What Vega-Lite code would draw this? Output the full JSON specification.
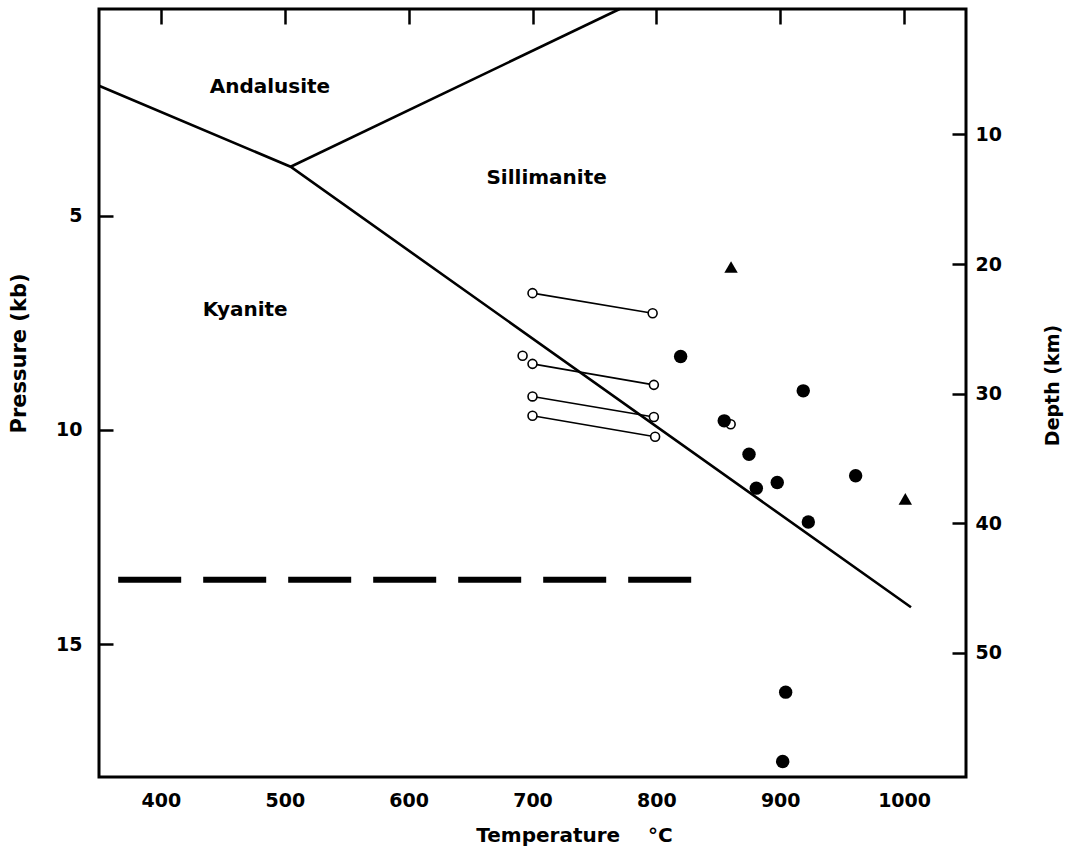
{
  "$schema": "https://vega.github.io/schema/vega-lite/v6.json",
  "width": 867,
  "height": 768,
  "autosize": {"type": "none"},
  "padding": {"left": 99, "top": 9, "right": 107, "bottom": 83},
  "background": "white",
  "config": {
    "view": {"stroke": "black", "strokeWidth": 3},
    "font": "DejaVu Sans",
    "axis": {
      "labelFont": "DejaVu Sans",
      "labelFontWeight": "bold",
      "labelColor": "black",
      "titleFont": "DejaVu Sans",
      "titleFontWeight": "bold",
      "titleColor": "black",
      "tickColor": "black",
      "grid": false,
      "domain": false
    }
  },
  "datasets": {
    "boundaries": [
      {"seg": "Ky-And-Sil", "ord": 1, "T": 350, "P": 1.97},
      {"seg": "Ky-And-Sil", "ord": 2, "T": 504.7, "P": 3.86},
      {"seg": "Ky-And-Sil", "ord": 3, "T": 1005.6, "P": 14.14},
      {"seg": "And-Sil", "ord": 1, "T": 504.7, "P": 3.86},
      {"seg": "And-Sil", "ord": 2, "T": 770.4, "P": 0.18}
    ],
    "dashed": [
      {"T": 365.5, "P": 13.5},
      {"T": 831, "P": 13.5}
    ],
    "samples": [
      {"kind": "open", "pair": 1, "T": 700, "P": 6.81},
      {"kind": "open", "pair": 1, "T": 797, "P": 7.28},
      {"kind": "open", "pair": 2, "T": 700, "P": 8.46},
      {"kind": "open", "pair": 2, "T": 798, "P": 8.95},
      {"kind": "open", "pair": 3, "T": 700, "P": 9.22},
      {"kind": "open", "pair": 3, "T": 798, "P": 9.70},
      {"kind": "open", "pair": 4, "T": 700, "P": 9.67},
      {"kind": "open", "pair": 4, "T": 799, "P": 10.16},
      {"kind": "open", "pair": null, "T": 692, "P": 8.27},
      {"kind": "open", "pair": null, "T": 860, "P": 9.87},
      {"kind": "filled", "pair": null, "T": 819.6, "P": 8.29},
      {"kind": "filled", "pair": null, "T": 918.6, "P": 9.09},
      {"kind": "filled", "pair": null, "T": 854.8, "P": 9.79},
      {"kind": "filled", "pair": null, "T": 874.8, "P": 10.57},
      {"kind": "filled", "pair": null, "T": 897.6, "P": 11.23},
      {"kind": "filled", "pair": null, "T": 880.7, "P": 11.36},
      {"kind": "filled", "pair": null, "T": 960.9, "P": 11.07},
      {"kind": "filled", "pair": null, "T": 922.7, "P": 12.15},
      {"kind": "filled", "pair": null, "T": 904.4, "P": 16.12},
      {"kind": "filled", "pair": null, "T": 902, "P": 17.74},
      {"kind": "triangle", "pair": null, "T": 860.3, "P": 6.2},
      {"kind": "triangle", "pair": null, "T": 1001, "P": 11.61}
    ],
    "fields": [
      {"name": "Andalusite", "T": 488, "P": 2.0},
      {"name": "Sillimanite", "T": 711.4, "P": 4.13},
      {"name": "Kyanite", "T": 468, "P": 7.2}
    ]
  },
  "layer": [
    {
      "data": {"name": "boundaries"},
      "mark": {"type": "line", "color": "black", "strokeWidth": 2.6},
      "encoding": {
        "x": {
          "field": "T", "type": "quantitative",
          "scale": {"domain": [350, 1050], "nice": false, "zero": false},
          "axis": {
            "orient": "bottom",
            "values": [400, 500, 600, 700, 800, 900, 1000],
            "format": "d",
            "ticks": false,
            "tickSize": 0,
            "labelPadding": 14,
            "labelFontSize": 19,
            "title": "Temperature\u00a0\u00a0\u00a0\u00a0°C",
            "titleFontSize": 20,
            "titleX": 475,
            "titleY": 58,
            "titleAlign": "center",
            "titleBaseline": "middle"
          }
        },
        "y": {
          "field": "P", "type": "quantitative",
          "scale": {"domain": [0.18, 18.1], "reverse": true, "nice": false, "zero": false},
          "axis": {
            "orient": "left",
            "values": [5, 10, 15],
            "tickSize": -14,
            "tickWidth": 2.5,
            "labelPadding": 31,
            "labelFontSize": 19,
            "title": "Pressure (kb)",
            "titleFontSize": 21,
            "titleAngle": 270,
            "titleX": -80,
            "titleY": 344,
            "titleAlign": "center",
            "titleBaseline": "middle"
          }
        },
        "detail": {"field": "seg"},
        "order": {"field": "ord"}
      }
    },
    {
      "data": {"name": "dashed"},
      "mark": {"type": "line", "color": "black", "strokeWidth": 6, "strokeDash": [63, 22], "strokeCap": "butt"},
      "encoding": {
        "x": {"field": "T", "type": "quantitative", "scale": {"domain": [350, 1050], "nice": false, "zero": false}, "axis": null},
        "y": {"field": "P", "type": "quantitative", "scale": {"domain": [0.18, 18.1], "reverse": true, "nice": false, "zero": false}, "axis": null}
      }
    },
    {
      "data": {"name": "samples"},
      "transform": [{"filter": "datum.pair != null"}],
      "mark": {"type": "line", "color": "black", "strokeWidth": 1.6},
      "encoding": {
        "x": {"field": "T", "type": "quantitative", "scale": {"domain": [350, 1050], "nice": false, "zero": false}, "axis": null},
        "y": {"field": "P", "type": "quantitative", "scale": {"domain": [0.18, 18.1], "reverse": true, "nice": false, "zero": false}, "axis": null},
        "detail": {"field": "pair"}
      }
    },
    {
      "data": {"name": "samples"},
      "transform": [{"filter": "datum.kind == 'open'"}],
      "mark": {"type": "point", "shape": "circle", "filled": true, "fill": "white", "stroke": "black", "strokeWidth": 1.6, "size": 80, "opacity": 1},
      "encoding": {
        "x": {"field": "T", "type": "quantitative", "scale": {"domain": [350, 1050], "nice": false, "zero": false}, "axis": null},
        "y": {"field": "P", "type": "quantitative", "scale": {"domain": [0.18, 18.1], "reverse": true, "nice": false, "zero": false}, "axis": null}
      }
    },
    {
      "data": {"name": "samples"},
      "transform": [{"filter": "datum.kind == 'filled'"}],
      "mark": {"type": "point", "shape": "circle", "filled": true, "color": "black", "size": 180, "opacity": 1},
      "encoding": {
        "x": {"field": "T", "type": "quantitative", "scale": {"domain": [350, 1050], "nice": false, "zero": false}, "axis": null},
        "y": {"field": "P", "type": "quantitative", "scale": {"domain": [0.18, 18.1], "reverse": true, "nice": false, "zero": false}, "axis": null}
      }
    },
    {
      "data": {"name": "samples"},
      "transform": [{"filter": "datum.kind == 'triangle'"}],
      "mark": {"type": "point", "shape": "triangle-up", "filled": true, "color": "black", "size": 180, "opacity": 1},
      "encoding": {
        "x": {"field": "T", "type": "quantitative", "scale": {"domain": [350, 1050], "nice": false, "zero": false}, "axis": null},
        "y": {"field": "P", "type": "quantitative", "scale": {"domain": [0.18, 18.1], "reverse": true, "nice": false, "zero": false}, "axis": null}
      }
    },
    {
      "data": {"name": "fields"},
      "mark": {"type": "text", "font": "DejaVu Sans", "fontWeight": "bold", "fontSize": 20, "color": "black", "align": "center", "baseline": "middle"},
      "encoding": {
        "x": {"field": "T", "type": "quantitative", "scale": {"domain": [350, 1050], "nice": false, "zero": false}, "axis": null},
        "y": {"field": "P", "type": "quantitative", "scale": {"domain": [0.18, 18.1], "reverse": true, "nice": false, "zero": false}, "axis": null},
        "text": {"field": "name"}
      }
    },
    {
      "data": {"values": [{}]},
      "mark": {"type": "point", "opacity": 0},
      "encoding": {
        "x": {
          "datum": 700, "type": "quantitative",
          "scale": {"domain": [350, 1050], "nice": false, "zero": false},
          "axis": {
            "orient": "top",
            "values": [400, 500, 600, 700, 800, 900, 1000],
            "tickSize": -15,
            "tickWidth": 2.5,
            "labels": false,
            "title": null
          }
        },
        "y": {
          "datum": 30, "type": "quantitative",
          "scale": {"domain": [0.31, 59.61], "reverse": true, "nice": false, "zero": false},
          "axis": {
            "orient": "right",
            "values": [10, 20, 30, 40, 50],
            "tickSize": -14,
            "tickWidth": 2.5,
            "labelPadding": 23,
            "labelFontSize": 19,
            "title": "Depth (km)",
            "titleFontSize": 19,
            "titleAngle": 270,
            "titleX": 86,
            "titleY": 376,
            "titleAlign": "center",
            "titleBaseline": "middle"
          }
        }
      }
    }
  ],
  "resolve": {"scale": {"y": "independent"}, "axis": {"x": "independent", "y": "independent"}}
}
